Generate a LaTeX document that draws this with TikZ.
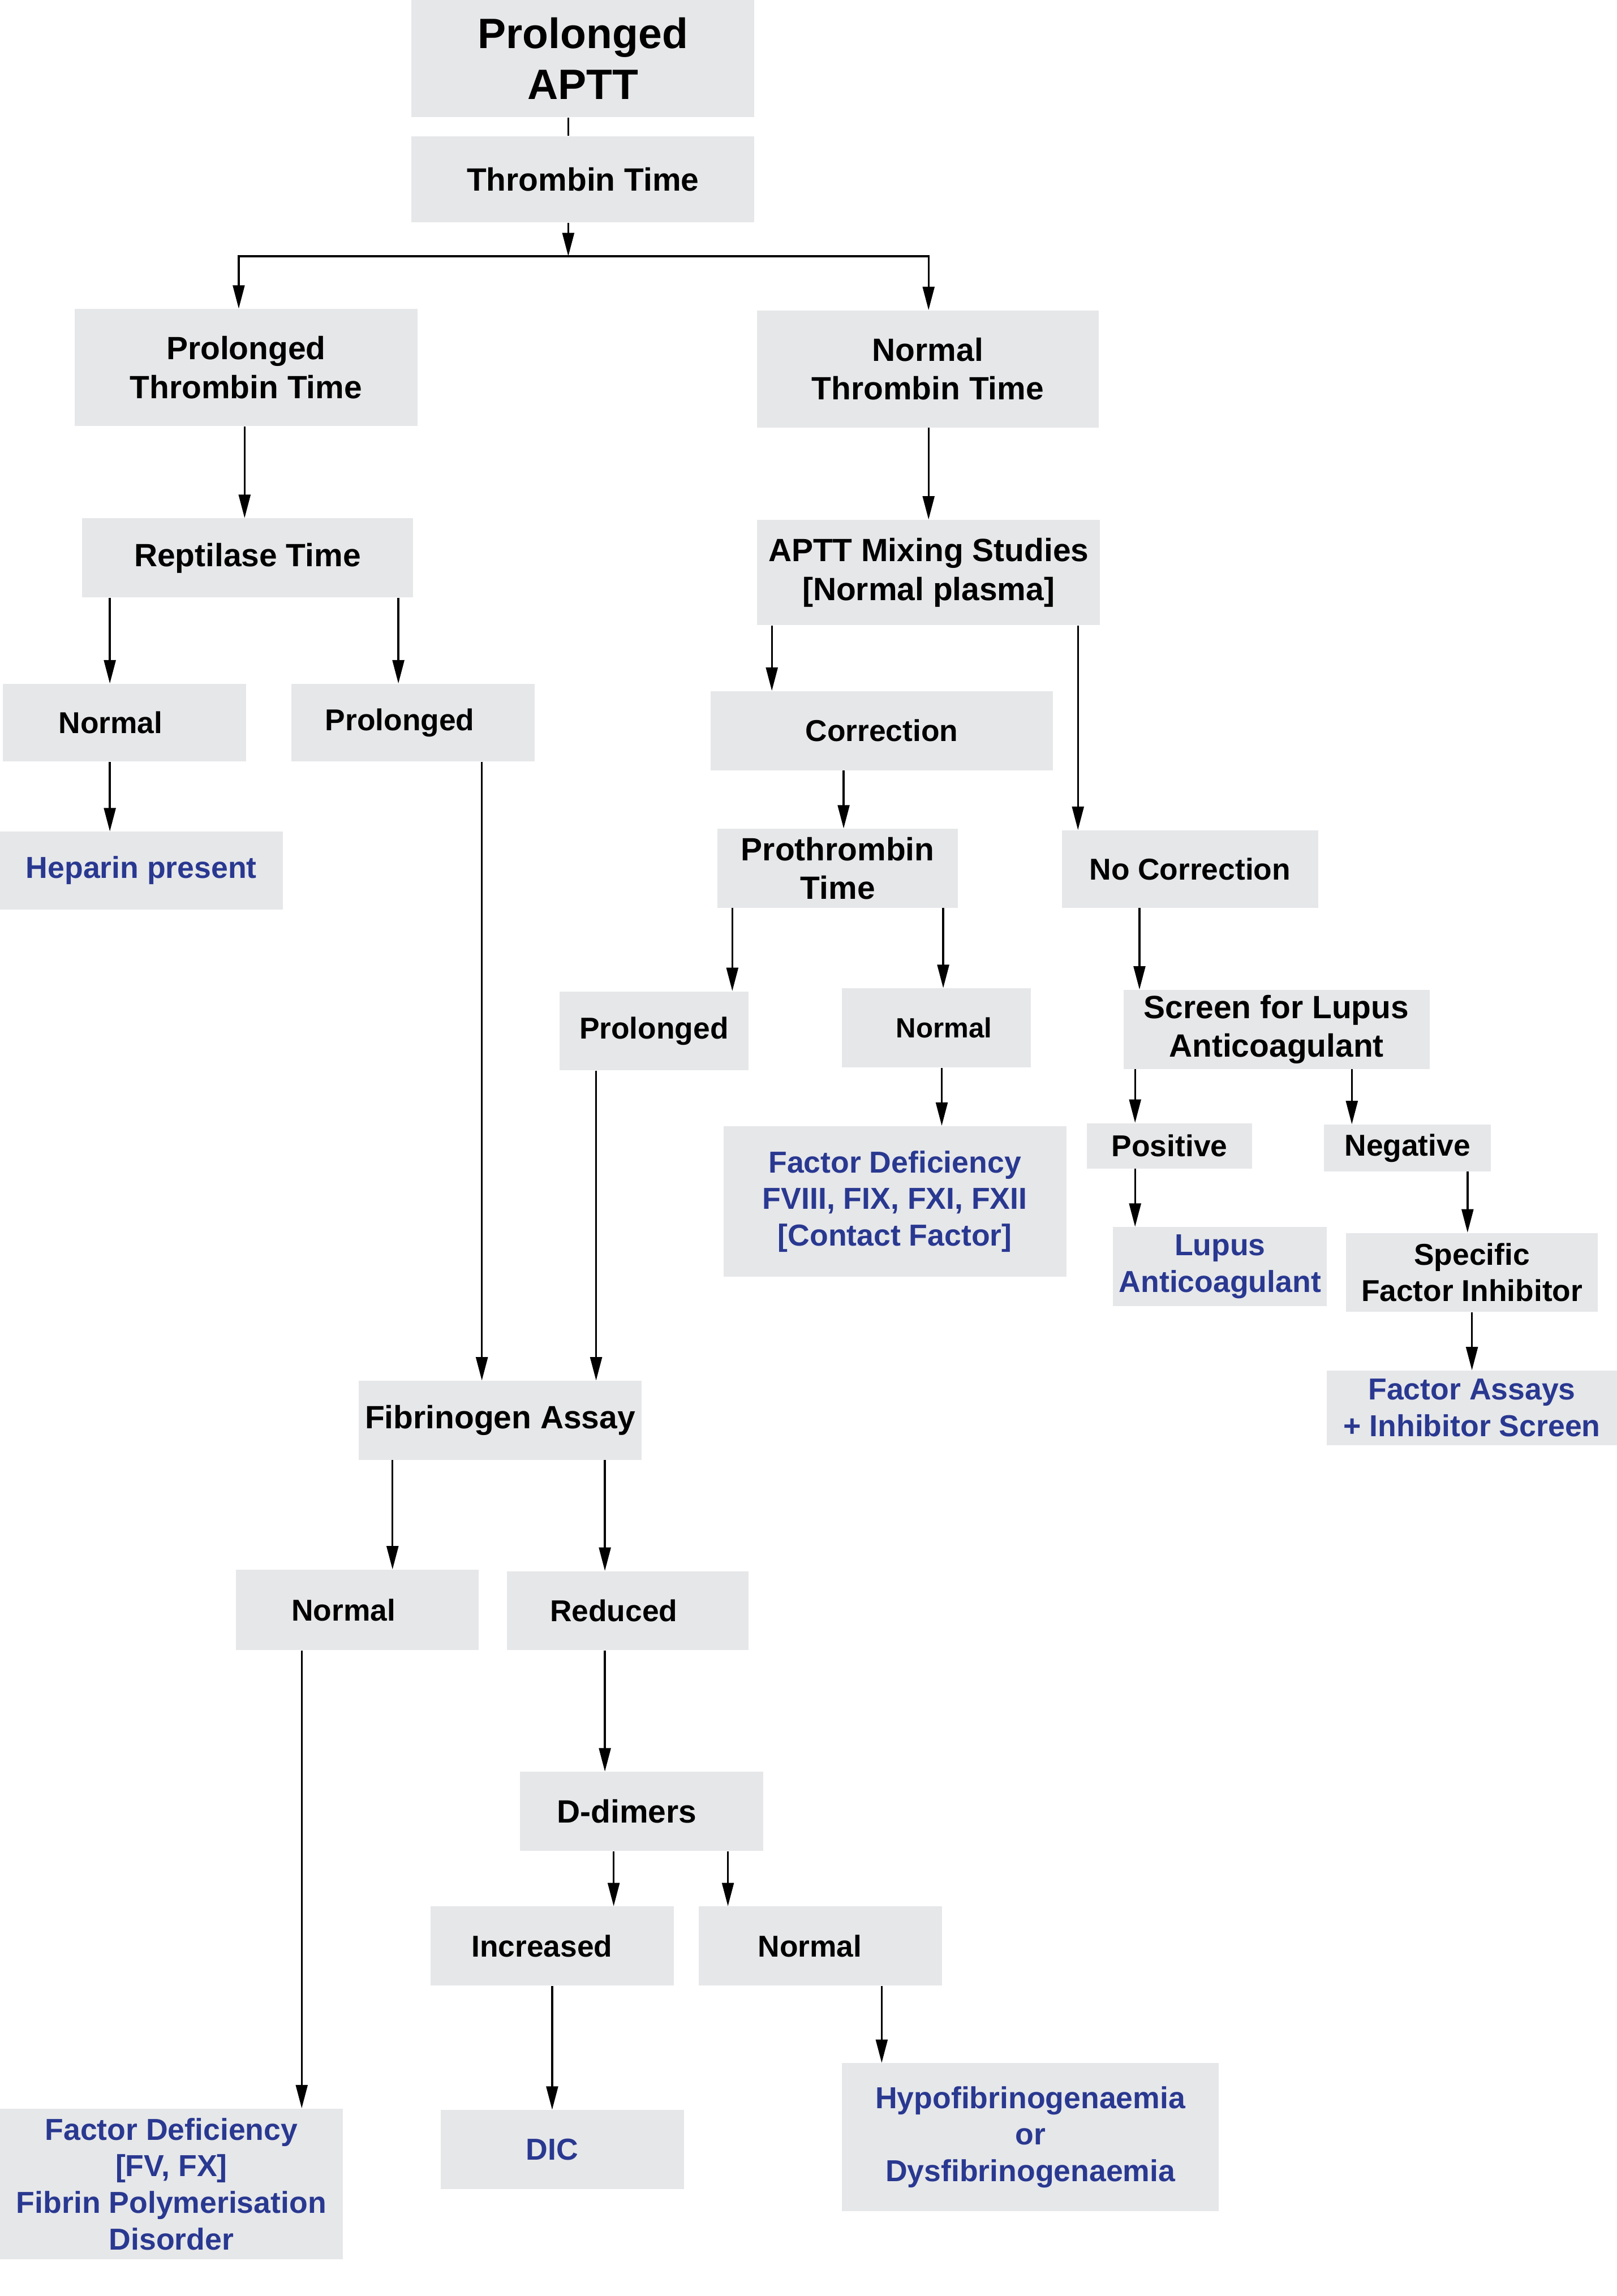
\documentclass[tikz,border=0pt]{standalone}
\usepackage{fontspec}
\setmainfont{Liberation Sans}
\usetikzlibrary{arrows.meta}
\definecolor{boxgrey}{RGB}{230,231,233}
\definecolor{outblue}{RGB}{41,56,144}
\begin{document}
\begin{tikzpicture}[x=1pt, y=-1pt, >={Triangle[length=16pt,width=8pt]},
  box/.style={fill=boxgrey, inner sep=0pt, align=center},
  ttl/.style={font=\bfseries\fontsize{29}{34.8}\selectfont},
  tA/.style={font=\bfseries\fontsize{22}{26.4}\selectfont},
  tB/.style={font=\bfseries\fontsize{20.6}{24.9}\selectfont},
  tC/.style={font=\bfseries\fontsize{19}{23}\selectfont},
  blu/.style={text=outblue, font=\bfseries\fontsize{20.7}{25}\selectfont},
  arr/.style={->, line width=1.3pt}]
\useasboundingbox (0,0) rectangle (1104,1568);
\node[box, ttl, minimum width=234pt, minimum height=80pt] (aptt) at (398,40) {Prolonged\\APTT};
\node[box, tA, minimum width=234pt, minimum height=59pt] (tt) at (398,122.5) {Thrombin Time};
\node[box, tA, minimum width=234pt, minimum height=80pt] (ptt) at (168,251) {Prolonged\\Thrombin Time};
\node[box, tA, minimum width=233pt, minimum height=80pt] (ntt) at (633.5,252) {Normal\\Thrombin Time};
\node[box, tA, minimum width=226pt, minimum height=54pt] (rept) at (169,381) {Reptilase Time};
\node[box, tA, minimum width=234pt, minimum height=72pt] (mix) at (634,391) {APTT Mixing Studies\\{}[Normal plasma]};
\node[box, tB, minimum width=166pt, minimum height=53pt] (rnorm) at (85,493.5) {Normal\kern19pt};
\node[box, tB, minimum width=166pt, minimum height=53pt] (rprol) at (282,493.5) {Prolonged\kern18pt};
\node[box, blu, minimum width=193pt, minimum height=53pt] (hep) at (96.5,594.5) {Heparin present};
\node[box, tB, minimum width=234pt, minimum height=54pt] (corr) at (602,499) {Correction};
\node[box, tA, minimum width=164pt, minimum height=54pt] (pt) at (572,593) {Prothrombin\\Time};
\node[box, tB, minimum width=175pt, minimum height=53pt] (nocorr) at (812.5,593.5) {No Correction};
\node[box, tB, minimum width=129pt, minimum height=54pt] (pprol) at (446.5,704) {Prolonged};
\node[box, tC, minimum width=129pt, minimum height=54pt] (pnorm) at (639.5,702) {\kern10pt Normal};
\node[box, blu, minimum width=234pt, minimum height=103pt] (fd8) at (611,820.5) {Factor Deficiency\\FVIII, FIX, FXI, FXII\\{}[Contact Factor]};
\node[box, tA, minimum width=209pt, minimum height=54pt] (lupus) at (871.5,703) {Screen for Lupus\\Anticoagulant};
\node[box, tB, minimum width=113pt, minimum height=31pt] (pos) at (798.5,782.5) {Positive};
\node[box, tB, minimum width=114pt, minimum height=32pt] (neg) at (961,784) {Negative};
\node[box, blu, minimum width=146pt, minimum height=54pt] (la) at (833,865) {Lupus\\Anticoagulant};
\node[box, tB, minimum width=172pt, minimum height=54pt] (sfi) at (1005,869) {Specific\\Factor Inhibitor};
\node[box, blu, minimum width=198pt, minimum height=51pt] (fa) at (1005,961.5) {Factor Assays\\+ Inhibitor Screen};
\node[box, tA, minimum width=193pt, minimum height=54pt] (fib) at (341.5,970) {Fibrinogen Assay};
\node[box, tB, minimum width=166pt, minimum height=55pt] (fnorm) at (244,1099.5) {Normal\kern19pt};
\node[box, tB, minimum width=165pt, minimum height=54pt] (fred) at (428.5,1100) {Reduced\kern19pt};
\node[box, tA, minimum width=166pt, minimum height=54pt] (dd) at (438,1237) {D-dimers\kern20pt};
\node[box, tB, minimum width=166pt, minimum height=54pt] (inc) at (377,1329) {Increased\kern14pt};
\node[box, tB, minimum width=166pt, minimum height=54pt] (dnorm) at (560,1329) {Normal\kern14pt};
\node[box, blu, minimum width=234pt, minimum height=103pt] (fd5) at (117,1491.5) {Factor Deficiency\\{}[FV, FX]\\Fibrin Polymerisation\\Disorder};
\node[box, blu, minimum width=166pt, minimum height=54pt] (dic) at (384,1468) {DIC\kern14pt};
\node[box, blu, minimum width=257pt, minimum height=101pt] (hypo) at (703.5,1459.5) {Hypofibrinogenaemia\\or\\Dysfibrinogenaemia};
\coordinate (split) at (388,175);
\draw[line width=1.3pt] (aptt.south -| split) -- (tt.north -| split);
\draw[arr] (tt.south -| split) -- (split);
\draw[line width=1.3pt, line cap=rect] (split -| 163,0) -- (split -| 634,0);
\draw[arr] (split -| 163,0) -- (ptt.north -| 163,0);
\draw[arr] (split -| 634,0) -- (ntt.north -| 634,0);
\draw[arr] (ptt.south -| 167,0) -- (rept.north -| 167,0);
\draw[arr] (ntt.south -| 634,0) -- (mix.north -| 634,0);
\draw[arr] (rept.south -| 75,0) -- (rnorm.north -| 75,0);
\draw[arr] (rept.south -| 272,0) -- (rprol.north -| 272,0);
\draw[arr] (rnorm.south -| 75,0) -- (hep.north -| 75,0);
\draw[arr] (rprol.south -| 329,0) -- (fib.north -| 329,0);
\draw[arr] (mix.south -| 527,0) -- (corr.north -| 527,0);
\draw[arr] (mix.south -| 736,0) -- (nocorr.north -| 736,0);
\draw[arr] (corr.south -| 576,0) -- (pt.north -| 576,0);
\draw[arr] (pt.south -| 500,0) -- (pprol.north -| 500,0);
\draw[arr] (pt.south -| 644,0) -- (pnorm.north -| 644,0);
\draw[arr] (pnorm.south -| 643,0) -- (fd8.north -| 643,0);
\draw[arr] (nocorr.south -| 778,0) -- (lupus.north -| 778,0);
\draw[arr] (lupus.south -| 775,0) -- (pos.north -| 775,0);
\draw[arr] (lupus.south -| 923,0) -- (neg.north -| 923,0);
\draw[arr] (pos.south -| 775,0) -- (la.north -| 775,0);
\draw[arr] (neg.south -| 1002,0) -- (sfi.north -| 1002,0);
\draw[arr] (sfi.south -| 1005,0) -- (fa.north -| 1005,0);
\draw[arr] (pprol.south -| 407,0) -- (fib.north -| 407,0);
\draw[arr] (fib.south -| 268,0) -- (fnorm.north -| 268,0);
\draw[arr] (fib.south -| 413,0) -- (fred.north -| 413,0);
\draw[arr] (fnorm.south -| 206,0) -- (fd5.north -| 206,0);
\draw[arr] (fred.south -| 413,0) -- (dd.north -| 413,0);
\draw[arr] (dd.south -| 419,0) -- (inc.north -| 419,0);
\draw[arr] (dd.south -| 497,0) -- (dnorm.north -| 497,0);
\draw[arr] (inc.south -| 377,0) -- (dic.north -| 377,0);
\draw[arr] (dnorm.south -| 602,0) -- (hypo.north -| 602,0);
\end{tikzpicture}
\end{document}
